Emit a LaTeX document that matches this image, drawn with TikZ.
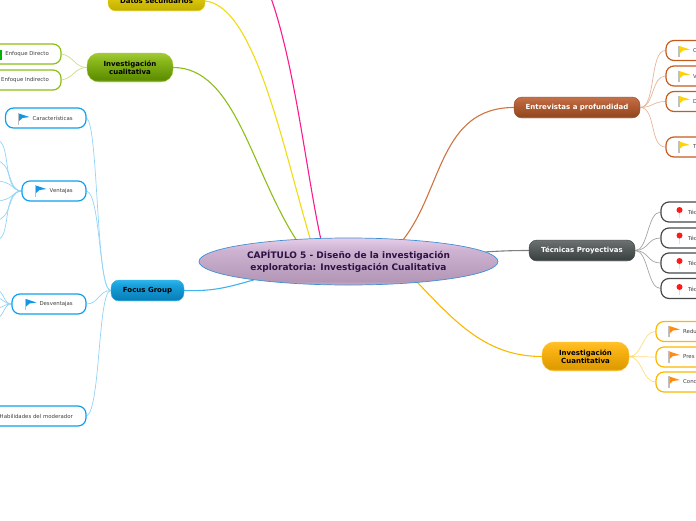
\documentclass[tikz,border=0pt]{standalone}
\usepackage{fontspec}
\setmainfont{DejaVu Sans}
\usetikzlibrary{backgrounds,shapes.geometric}
\newcommand{\mkgloss}[5]{%
  \pgfdeclareverticalshading{#1}{100bp}{color(0bp)=(#2); color(25bp)=(#2); color(29bp)=(#3); color(62bp)=(#4); color(75bp)=(#5); color(100bp)=(#5)}}
\definecolor{fgA}{HTML}{4FBDEA}\definecolor{fgB}{HTML}{0A7FB8}\definecolor{fgC}{HTML}{17A0DC}\definecolor{fgD}{HTML}{30B4EC}
\definecolor{enA}{HTML}{D08A62}\definecolor{enB}{HTML}{93481F}\definecolor{enC}{HTML}{B8623A}\definecolor{enD}{HTML}{C4714A}
\definecolor{teA}{HTML}{8A8F8F}\definecolor{teB}{HTML}{3C4141}\definecolor{teC}{HTML}{5E6363}\definecolor{teD}{HTML}{6C7171}
\definecolor{cuA}{HTML}{FFD35C}\definecolor{cuB}{HTML}{DD9A00}\definecolor{cuC}{HTML}{FAB314}\definecolor{cuD}{HTML}{FFC12C}
\definecolor{caA}{HTML}{B5D65A}\definecolor{caB}{HTML}{5C8C00}\definecolor{caC}{HTML}{8AB81C}\definecolor{caD}{HTML}{A2CB36}
\definecolor{daA}{HTML}{F0E26A}\definecolor{daB}{HTML}{C4B000}\definecolor{daC}{HTML}{E0CC10}\definecolor{daD}{HTML}{EEDC30}
\definecolor{ceA}{HTML}{C9AECB}\definecolor{ceB}{HTML}{B497B6}\definecolor{ceC}{HTML}{CDB2D1}\definecolor{ceD}{HTML}{E6CFEA}
\definecolor{fgbox}{HTML}{0FA0EC}
\definecolor{cabox}{HTML}{8CBE14}
\definecolor{enbox}{HTML}{C45C20}
\definecolor{tebox}{HTML}{454A4A}
\definecolor{cubox}{HTML}{FBB800}
\definecolor{ceborder}{HTML}{3F90D4}
\definecolor{cetext}{HTML}{2F1245}
\definecolor{rosel}{HTML}{FF1A8C}
\definecolor{yell}{HTML}{F0DC10}
\definecolor{flagb}{HTML}{1496E6}
\definecolor{flagy}{HTML}{FFD400}
\definecolor{flago}{HTML}{FF8A14}
\mkgloss{fgS}{fgA}{fgB}{fgC}{fgD}
\mkgloss{enS}{enA}{enB}{enC}{enD}
\mkgloss{teS}{teA}{teB}{teC}{teD}
\mkgloss{cuS}{cuA}{cuB}{cuC}{cuD}
\mkgloss{caS}{caA}{caB}{caC}{caD}
\mkgloss{daS}{daA}{daB}{daC}{daD}
\mkgloss{ceS}{ceA}{ceB}{ceC}{ceD}
\newcommand{\flagicon}[3]{%
  \fill[black!25] (#1-0.7,#2-5.5) rectangle (#1+0.7,#2+6);
  \fill[#3] (#1+0.5,#2-5) -- (#1+11,#2-1.5) -- (#1+4,#2-0.5) -- (#1+0.5,#2+2.5) -- cycle;}
\newcommand{\pinicon}[2]{%
  \fill[black!12] (#1-0.6,#2) rectangle (#1+0.6,#2+8);
  \fill[red!90!white] (#1,#2) circle (3);}
\newcommand{\lowtxt}[1]{\raisebox{-0.7pt}{#1}}
\tikzset{
  x=1pt,y=-1pt,
  main/.style={rounded corners=8pt,font=\fontsize{7}{8.5}\selectfont\bfseries,align=center,inner sep=0pt},
  sub/.style={draw=#1,line width=1.2pt,rounded corners=8pt,fill=white,minimum height=20pt,inner sep=0pt},
  lbl/.style={font=\fontsize{5.4}{6.5}\selectfont,text=black!75,inner sep=0pt},
  llbl/.style={lbl,anchor=east},
  rlbl/.style={lbl,anchor=west},
  mainline/.style={line width=1.1pt,line cap=round},
  subline/.style={line width=0.7pt,line cap=round}
}
\begin{document}
\begin{tikzpicture}
\path[use as bounding box,clip] (0,0) rectangle (696,520);
% central
\node[ellipse,shading=ceS,draw=ceborder,line width=0.7pt,minimum width=299pt,minimum height=47pt,inner sep=0pt,
  align=center,text=cetext,font=\fontsize{9}{12}\selectfont\bfseries] (central) at (348.5,261.5)
  {CAPÍTULO 5 - Diseño de la investigación\\exploratoria: Investigación Cualitativa};
% main topics
\node[main,shading=fgS,draw=fgD,minimum width=73pt,minimum height=21pt] (focus) at (147.5,290.5) {\lowtxt{Focus Group}};
\node[main,shading=enS,draw=enB,text=white,minimum width=126pt,minimum height=21pt] (entre) at (577,107.5) {\lowtxt{Entrevistas a profundidad}};
\node[main,shading=teS,draw=teB,text=white,minimum width=106pt,minimum height=21pt] (tecn) at (582,250.5) {\lowtxt{Técnicas Proyectivas}};
\node[main,shading=cuS,draw=cuD,rounded corners=12pt,minimum width=87pt,minimum height=29pt] (cuant) at (585.5,356.5) {Investigación\\Cuantitativa};
\node[main,shading=caS,draw=caD,rounded corners=12pt,minimum width=86pt,minimum height=29pt] (cual) at (130,67.5) {Investigación\\cualitativa};
\node[main,shading=daS,draw=daC,minimum width=97pt,minimum height=20pt] (datos) at (156.5,1) {Datos secundarios};
\coordinate (rose) at (270,-5);
% left sub-topics
\node[sub=cabox,minimum width=101pt] (edir) at (10.5,54) {};
\node[sub=cabox,minimum width=101pt] (eind) at (10.5,80) {};
\node[sub=fgbox,minimum width=80.5pt] (carac) at (45.75,118) {};
\node[sub=fgbox,minimum width=64pt] (venta) at (54,191) {};
\node[sub=fgbox,minimum width=74pt] (desve) at (49,304) {};
\node[sub=fgbox,minimum width=126pt] (habil) at (23,416) {};
\node[llbl] (tedir) at (49,54.5) {Enfoque Directo};
\node[llbl] (teind) at (49,80.5) {Enfoque Indirecto};
\node[llbl] (tcar) at (73,118.5) {Características};
\node[llbl] (tven) at (73,191) {Ventajas};
\node[llbl] (tdes) at (73,304) {Desventajas};
\node[llbl] (thab) at (73,416) {Habilidades del moderador};
% right sub-topics
\node[sub=enbox,minimum width=80pt] (en1) at (706,50.5) {};
\node[sub=enbox,minimum width=80pt] (en2) at (706,76) {};
\node[sub=enbox,minimum width=80pt] (en3) at (706,101.5) {};
\node[sub=enbox,minimum width=80pt] (en4) at (706,147) {};
\node[sub=tebox,minimum width=80pt] (te1) at (701,212) {};
\node[sub=tebox,minimum width=80pt] (te2) at (701,238) {};
\node[sub=tebox,minimum width=80pt] (te3) at (701,263) {};
\node[sub=tebox,minimum width=80pt] (te4) at (701,288.5) {};
\node[sub=cubox,minimum width=90pt] (cu1) at (701,331.5) {};
\node[sub=cubox,minimum width=90pt] (cu2) at (701,357) {};
\node[sub=cubox,minimum width=90pt] (cu3) at (701,382) {};
\node[rlbl] (ten1) at (693,51) {O};
\node[rlbl] (ten2) at (693,76.5) {V};
\node[rlbl] (ten3) at (693,102) {D};
\node[rlbl] (ten4) at (693,147) {T};
\node[rlbl] (tte1) at (688,212.5) {Téc};
\node[rlbl] (tte2) at (688,238) {Téc};
\node[rlbl] (tte3) at (688,263) {Téc};
\node[rlbl] (tte4) at (688,289) {Téc};
\node[rlbl] (tcu1) at (683,331) {Redu};
\node[rlbl] (tcu2) at (683,357) {Pres};
\node[rlbl] (tcu3) at (683,382) {Conc};
% off-picture ends of Ventajas and Desventajas
\coordinate (v1) at (-4,140);
\coordinate (v2) at (-4,161);
\coordinate (v3) at (-4,181);
\coordinate (v4) at (-4,201);
\coordinate (v5) at (-4,220);
\coordinate (v6) at (-4,240);
\coordinate (d1) at (-4,290);
\coordinate (d2) at (-4,298);
\coordinate (d3) at (-4,308);
\coordinate (d4) at (-4,318);
% icons
\flagicon{18.5}{118.5}{flagb}
\flagicon{35.5}{190.5}{flagb}
\flagicon{25.5}{304}{flagb}
\fill[green!70!black] (0,50) rectangle (2,60);
\flagicon{679}{51}{flagy}
\flagicon{679}{76}{flagy}
\flagicon{679}{101}{flagy}
\flagicon{679}{146.5}{flagy}
\pinicon{679.5}{210}
\pinicon{679.5}{235.5}
\pinicon{679.5}{261}
\pinicon{679.5}{287}
\flagicon{669}{331}{flago}
\flagicon{669}{356.5}{flago}
\flagicon{669}{381.5}{flago}
% connectors
\begin{pgfonlayer}{background}
\draw[mainline,color=enbox!85!white] (central.22) .. controls +(39,-50) and +(-74,0) .. (entre.west);
\draw[mainline,color=tebox!70!white] (central.4) .. controls +(15,-1) and +(-15,0) .. (tecn.west);
\draw[mainline,color=cubox] (central.-17) .. controls +(38,40) and +(-55,0) .. (cuant.west);
\draw[mainline,color=fgbox!80!white] (focus.east) .. controls +(30,1) and +(-25,7) .. (central.191);
\draw[mainline,color=cabox] (cual.east) .. controls +(62,0) and +(-45,-70) .. (central.157);
\draw[mainline,color=yell] (datos.east) .. controls +(50,5) and +(-27,-90) .. (central.149);
\draw[mainline,color=rosel] (rose) .. controls +(25,70) and +(-15,-70) .. (central.140);
\begin{scope}[subline]
\draw[cabox!50!white] (edir.east) .. controls +(12,2) and +(-12,0) .. (cual.west);
\draw[cabox!50!white] (eind.east) .. controls +(12,-2) and +(-12,0) .. (cual.west);
\draw[fgbox!45!white] (carac.east) .. controls +(12,8) and +(-15,0) .. (focus.west);
\draw[fgbox!45!white] (venta.east) .. controls +(14,3) and +(-12,0) .. (focus.west);
\draw[fgbox!45!white] (desve.east) .. controls +(12,0) and +(-12,0) .. (focus.west);
\draw[fgbox!45!white] (habil.east) .. controls +(14,-6) and +(-13,0) .. (focus.west);
\foreach \c/\k in {v1/20,v2/14,v3/8,v4/8,v5/14,v6/20}
  \draw[fgbox!45!white] (\c) .. controls +(16,0) and +(-\k,0) .. (venta.west);
\foreach \c in {d1,d2,d3,d4}
  \draw[fgbox!45!white] (\c) .. controls +(8,0) and +(-8,0) .. (desve.west);
\foreach \c/\t in {en1/16,en2/14,en3/12,en4/16}
  \draw[enbox!45!white] (entre.east) .. controls +(\t,0) and +(-\t,0) .. (\c.west);
\foreach \c in {te1,te2,te3,te4}
  \draw[tebox!50!white] (tecn.east) .. controls +(13,0) and +(-13,0) .. (\c.west);
\foreach \c in {cu1,cu2,cu3}
  \draw[cubox!50!white] (cuant.east) .. controls +(13,0) and +(-13,0) .. (\c.west);
\end{scope}
\end{pgfonlayer}
\end{tikzpicture}
\end{document}
